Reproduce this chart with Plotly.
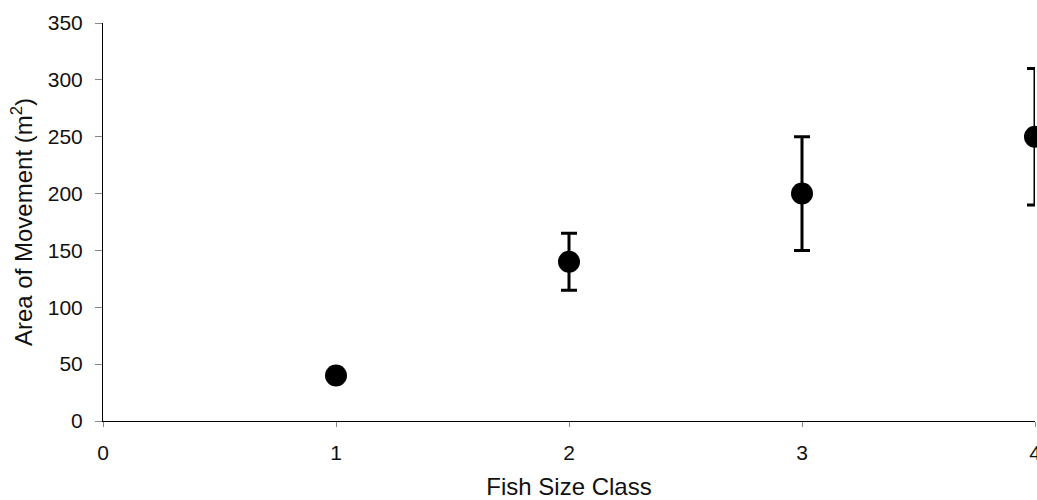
import plotly.graph_objects as go

# Mean area of movement per fish size class, with error bar half-widths
size_class = [1, 2, 3, 4]
area_mean = [40, 140, 200, 250]
area_err = [0, 25, 50, 60]

x_ticks = [0, 1, 2, 3, 4]
y_ticks = [0, 50, 100, 150, 200, 250, 300, 350]

fig = go.Figure(
    go.Scatter(
        x=size_class,
        y=area_mean,
        mode="markers",
        marker=dict(color="black", size=22),
        error_y=dict(type="data", array=area_err, visible=True,
                     color="black", thickness=3, width=8),
        cliponaxis=False,
        showlegend=False,
    )
)

font = dict(family="Liberation Sans, Arial, sans-serif", size=20, color="#111")
tick_font = dict(family="Liberation Sans, Arial, sans-serif", size=21, color="#111")

fig.update_layout(
    width=1037,
    height=500,
    margin=dict(l=103, r=2, t=23, b=79),
    paper_bgcolor="white",
    plot_bgcolor="white",
    font=font,
    xaxis=dict(
        range=[0, 4],
        tickvals=x_ticks,
        showgrid=False,
        zeroline=False,
        showline=True,
        linecolor="black",
        linewidth=1,
        ticks="outside",
        ticklen=5,
        tickcolor="#888",
        tickfont=tick_font,
        ticklabelstandoff=8,
        ticklabeloverflow="allow",
        automargin=False,
        title=dict(text="Fish Size Class", standoff=15),
    ),
    yaxis=dict(
        range=[0, 350],
        tickvals=y_ticks,
        showgrid=False,
        zeroline=False,
        showline=True,
        linecolor="black",
        linewidth=1,
        ticks="outside",
        ticklen=7,
        tickcolor="#888",
        tickfont=tick_font,
        ticklabelstandoff=8,
        automargin=False,
        title=dict(text="Area of Movement (m<sup>2</sup>)", standoff=8),
    ),
)

fig.write_html("out.html")
